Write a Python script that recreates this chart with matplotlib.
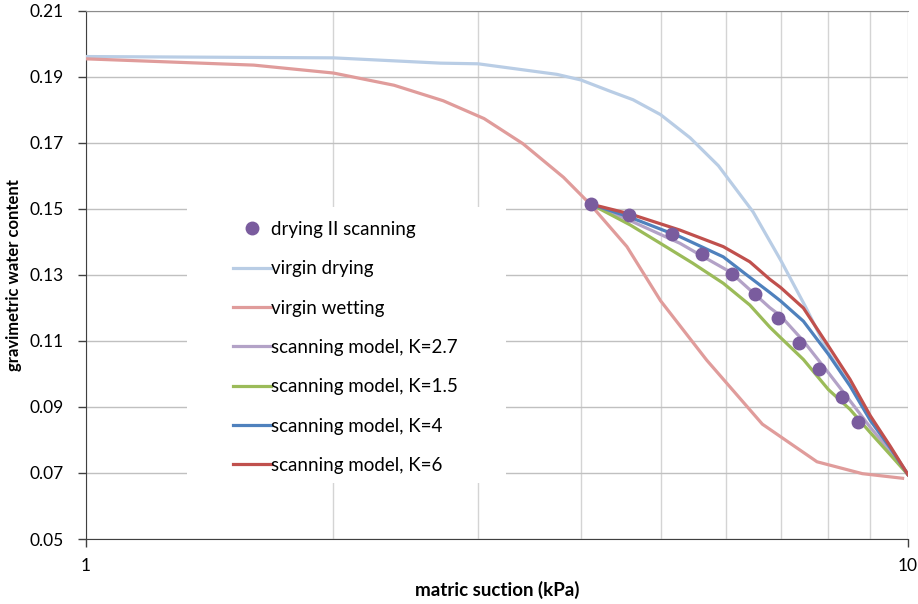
import matplotlib
matplotlib.use("Agg")
import matplotlib.pyplot as plt
from matplotlib.patches import Rectangle
from matplotlib.ticker import FixedLocator, NullFormatter

plt.rcParams['font.family'] = ['Lato', 'DejaVu Sans']

# measured drying II scanning points (suction in kPa, water content)
scan_x = [4.11, 4.58, 5.17, 5.62, 6.11, 6.51, 6.94, 7.37, 7.80, 8.31, 8.69]
scan_y = [0.1515, 0.1482, 0.1423, 0.1364, 0.1303, 0.1241, 0.1169, 0.1093, 0.1014, 0.0929, 0.0855]

# virgin drying / wetting curves
dry_x = [1.0, 2.0, 2.7, 3.0, 3.74, 4.0, 4.34, 4.63, 5.0, 5.43, 5.88, 6.48, 7.0, 7.5,
         8.0, 8.5, 9.0, 9.9, 10.0]
dry_y = [0.1962, 0.1958, 0.1942, 0.1940, 0.1908, 0.1891, 0.1857, 0.1831, 0.1786, 0.1716,
         0.1631, 0.1491, 0.1345, 0.1205, 0.1065, 0.0969, 0.0868, 0.0711, 0.0695]
wet_x = [1.0, 1.6, 2.0, 2.37, 2.72, 3.05, 3.4, 3.81, 4.1, 4.55, 5.0, 5.69, 6.65, 7.75, 8.8, 9.85]
wet_y = [0.1955, 0.1936, 0.1912, 0.1875, 0.1828, 0.1774, 0.1698, 0.1596, 0.1516, 0.1386,
         0.1222, 0.1042, 0.0848, 0.0734, 0.0698, 0.0684]

# scanning model curves for different K
k27_x = [4.11, 4.59, 5.28, 5.62, 6.07, 6.51, 6.79, 7.0, 7.46, 8.0, 8.5, 9.0, 9.51, 10.0]
k27_y = [0.1515, 0.1465, 0.1396, 0.1357, 0.1310, 0.1242, 0.1201, 0.1176, 0.1100, 0.1004,
         0.0919, 0.0838, 0.0767, 0.0695]
k15_x = [4.11, 4.59, 4.99, 5.47, 5.96, 6.42, 6.79, 7.0, 7.46, 8.0, 8.5, 9.0, 9.51, 10.0]
k15_y = [0.1515, 0.1452, 0.1397, 0.1336, 0.1275, 0.1209, 0.1142, 0.1110, 0.1044, 0.0953,
         0.0893, 0.0822, 0.0756, 0.0695]
k4_x = [4.11, 4.59, 5.28, 5.96, 6.42, 6.79, 7.0, 7.46, 8.0, 8.5, 9.0, 9.51, 10.0]
k4_y = [0.1515, 0.1475, 0.1416, 0.1355, 0.1293, 0.1247, 0.1221, 0.1160, 0.1060, 0.0964,
        0.0859, 0.0777, 0.0695]
k6_x = [4.11, 4.59, 5.28, 5.96, 6.42, 6.79, 7.0, 7.46, 8.0, 8.5, 9.0, 9.51, 10.0]
k6_y = [0.1515, 0.1485, 0.1436, 0.1386, 0.1340, 0.1287, 0.1262, 0.1200, 0.1085, 0.0984,
        0.0873, 0.0782, 0.0695]

y_ticks = [0.05, 0.07, 0.09, 0.11, 0.13, 0.15, 0.17, 0.19, 0.21]

fig = plt.figure(figsize=(9.18, 6.04), dpi=100)
ax = fig.add_axes([86 / 918, 1 - 539 / 604, 822 / 918, 528 / 604])

lw = 2.3
ax.plot(scan_x, scan_y, 'o', color='#7a5c9e', markersize=9, zorder=6, label='drying II scanning')
ax.plot(dry_x, dry_y, color='#b9cde5', lw=lw, zorder=3, label='virgin drying')
ax.plot(wet_x, wet_y, color='#e09c9b', lw=lw, zorder=3, label='virgin wetting')
ax.plot(k27_x, k27_y, color='#b3a2c7', lw=lw, zorder=4, label='scanning model, K=2.7')
ax.plot(k15_x, k15_y, color='#9bbb59', lw=lw, zorder=4, label='scanning model, K=1.5')
ax.plot(k4_x, k4_y, color='#4f81bd', lw=lw, zorder=4, label='scanning model, K=4')
ax.plot(k6_x, k6_y, color='#c0504d', lw=lw, zorder=5, label='scanning model, K=6')

ax.set_xscale('log')
ax.set_xlim(1, 10)
ax.set_ylim(0.05, 0.21)
ax.set_yticks(y_ticks)
ax.set_yticklabels([f'{v:.2f}' for v in y_ticks])
ax.xaxis.set_major_locator(FixedLocator([1, 10]))
ax.set_xticklabels(['1', '10'])
ax.xaxis.set_minor_locator(FixedLocator([2, 3, 4, 5, 6, 7, 8, 9]))
ax.xaxis.set_minor_formatter(NullFormatter())

ax.set_axisbelow(True)
ax.grid(axis='y', which='major', color='#c0c0c0', lw=1)
ax.grid(axis='x', which='both', color='#d4d4d4', lw=1)
ax.tick_params(axis='both', which='major', direction='out', length=5.8, width=1,
               color='#404040', labelsize=12.5)
ax.tick_params(axis='y', which='major', pad=10.5)
ax.tick_params(axis='x', which='major', pad=8)
ax.tick_params(axis='x', which='minor', length=0)

for side in ['left', 'bottom']:
    ax.spines[side].set_color('#404040')
ax.spines['right'].set_visible(False)
ax.spines['top'].set_color('#8c8c8c')

ax.set_xlabel('matric suction (kPa)', fontsize=13.5, fontweight='bold', labelpad=5)
ax.set_ylabel('gravimetric water content', fontsize=12, fontweight='bold', labelpad=5)

# white panel behind the legend
ax.add_patch(Rectangle((0.123, 0.106), 0.388, 0.523, transform=ax.transAxes,
                       facecolor='white', edgecolor='none', zorder=1))
ax.legend(loc='upper left', bbox_to_anchor=(233 / 918, 1 - 221 / 604),
          bbox_transform=fig.transFigure, frameon=False, fontsize=13.5,
          handlelength=2.0, handletextpad=0.05, labelspacing=1.19, borderpad=0,
          borderaxespad=0, numpoints=1)

fig.savefig('out.png', dpi=100)
